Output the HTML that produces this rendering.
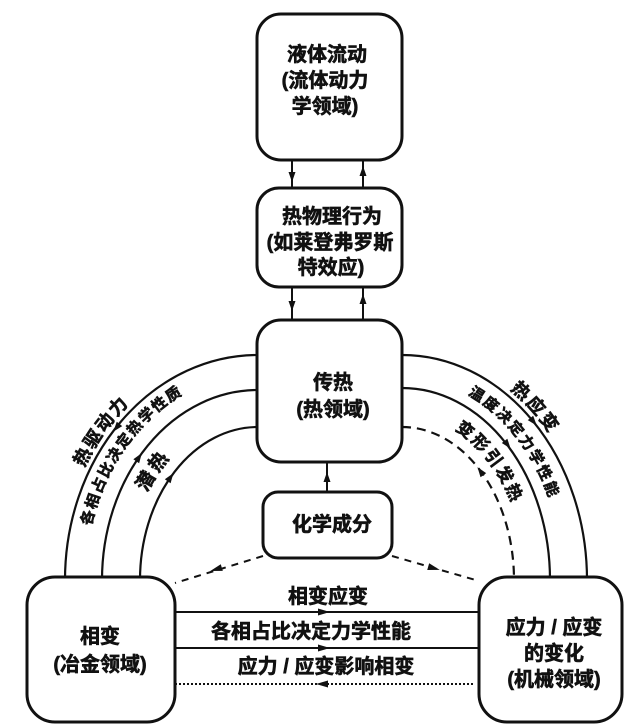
<!DOCTYPE html>
<html><head><meta charset="utf-8"><style>
html,body{margin:0;padding:0;background:#fff;}
svg{display:block;}
text{font-family:"Liberation Sans","Noto Sans CJK SC",sans-serif;font-weight:bold;fill:#111;stroke:#111;stroke-width:0.6;}
</style></head><body>
<svg width="637" height="726" viewBox="0 0 637 726" xmlns="http://www.w3.org/2000/svg">
<defs>
<path id="pL1" d="M 53 580 A 205 237 0 0 1 258 343"/>
<path id="pL2" d="M 80 580 A 178 211 0 0 1 258 369"/>
<path id="pL3" d="M 121 580 A 137 171 0 0 1 258 409"/>
<path id="pR1" d="M 402 343 A 197 237 0 0 1 599 580"/>
<path id="pR2" d="M 402 372 A 166 208 0 0 1 568 580"/>
<path id="pR3" d="M 402 408 A 130 172 0 0 1 532 580"/>
</defs>
<rect width="637" height="726" fill="#fff"/>

<!-- arcs -->
<g fill="none" stroke="#111" stroke-width="2.2">
<path d="M 258 355 A 193 225 0 0 0 65 580"/>
<path d="M 258 390 A 156 190 0 0 0 102 580"/>
<path d="M 258 427 A 118 153 0 0 0 140 580"/>
<path d="M 402 355 A 185 225 0 0 1 587 580"/>
<path d="M 402 388 A 148 192 0 0 1 550 580"/>
<path d="M 402 427 A 112 153 0 0 1 514 580" stroke-dasharray="9 6"/>
</g>

<!-- vertical connectors -->
<g stroke="#111" stroke-width="2">
<line x1="292" y1="160" x2="292" y2="188"/>
<line x1="363" y1="160" x2="363" y2="188"/>
<line x1="292" y1="287" x2="292" y2="320"/>
<line x1="363" y1="287" x2="363" y2="320"/>
<line x1="327" y1="462" x2="327" y2="492"/>
</g>

<!-- horizontal connectors -->
<g stroke="#111">
<line x1="175" y1="612" x2="479" y2="612" stroke-width="2"/>
<line x1="175" y1="648" x2="479" y2="648" stroke-width="2"/>
<line x1="175" y1="684" x2="474" y2="684" stroke-width="2" stroke-dasharray="2 2"/>
<line x1="263" y1="556" x2="175" y2="583" stroke-width="2" stroke-dasharray="7 6"/>
<line x1="392" y1="556" x2="479" y2="581" stroke-width="2" stroke-dasharray="7 6"/>
</g>

<!-- arrowheads -->
<g fill="#111">
<polygon points="6,0 -4,-3.5 -4,3.5" transform="translate(292,176) rotate(90)"/>
<polygon points="6,0 -4,-3.5 -4,3.5" transform="translate(363,172) rotate(-90)"/>
<polygon points="6,0 -4,-3.5 -4,3.5" transform="translate(292,305) rotate(90)"/>
<polygon points="6,0 -4,-3.5 -4,3.5" transform="translate(363,300) rotate(-90)"/>
<polygon points="6,0 -4,-3.5 -4,3.5" transform="translate(327,478) rotate(-90)"/>
<polygon points="7,0 -5,-3.5 -5,3.5" transform="translate(323,612)"/>
<polygon points="7,0 -5,-3.5 -5,3.5" transform="translate(323,648)"/>
<polygon points="7,0 -5,-3.5 -5,3.5" transform="translate(323,684) rotate(180)"/>
<polygon points="7,0 -5,-3.5 -5,3.5" transform="translate(217,569) rotate(163)"/>
<polygon points="7,0 -5,-3.5 -5,3.5" transform="translate(433,568) rotate(16)"/>
<polygon points="6,0 -4,-3.5 -4,3.5" transform="translate(117,427) rotate(128.7)"/>
<polygon points="6,0 -4,-3.5 -4,3.5" transform="translate(138.5,458) rotate(-55.4)"/>
<polygon points="6,0 -4,-3.5 -4,3.5" transform="translate(170,478) rotate(-55.2)"/>
<polygon points="6,0 -4,-3.5 -4,3.5" transform="translate(533,421) rotate(50.6)"/>
<polygon points="6,0 -4,-3.5 -4,3.5" transform="translate(507,444) rotate(52.4)"/>
<polygon points="6,0 -4,-3.5 -4,3.5" transform="translate(481,472) rotate(-126.2)"/>
</g>

<!-- boxes -->
<g fill="#fff" stroke="#111" stroke-width="3">
<rect x="257" y="14" width="145" height="146" rx="24" ry="24"/>
<rect x="257" y="188" width="145" height="99" rx="22" ry="22"/>
<rect x="257" y="320" width="145" height="142" rx="24" ry="24"/>
<rect x="263" y="492" width="129" height="66" rx="15" ry="15"/>
<rect x="27" y="577" width="148" height="145" rx="28" ry="28"/>
<rect x="479" y="577" width="143" height="145" rx="28" ry="28"/>
</g>

<!-- box texts -->
<g font-size="20" text-anchor="middle" dominant-baseline="central">
<text x="327" y="55">液体流动</text>
<text x="325" y="81">(流体动力</text>
<text x="325" y="107">学领域)</text>
<text x="332" y="217">热物理行为</text>
<text x="330" y="243">(如莱登弗罗斯</text>
<text x="331" y="268">特效应)</text>
<text x="333" y="383">传热</text>
<text x="333" y="410">(热领域)</text>
<text x="332" y="525">化学成分</text>
<text x="100" y="637">相变</text>
<text x="100" y="665">(冶金领域)</text>
<text x="554" y="628">应力 / 应变</text>
<text x="554" y="654">的变化</text>
<text x="554" y="680">(机械领域)</text>
<text x="328" y="597">相变应变</text>
<text x="311" y="632">各相占比决定力学性能</text>
<text x="326" y="667">应力 / 应变影响相变</text>
</g>

<!-- arc labels -->
<g text-anchor="middle" dominant-baseline="central">
<text font-size="18" letter-spacing="2.5"><textPath href="#pL1" startOffset="46%">热驱动力</textPath></text>
<text font-size="15" letter-spacing="2"><textPath href="#pL2" startOffset="46%">各相占比决定热学性质</textPath></text>
<text font-size="19" letter-spacing="4"><textPath href="#pL3" startOffset="48%">潜热</textPath></text>
<text font-size="18" letter-spacing="3"><textPath href="#pR1" startOffset="45%">热应变</textPath></text>
<text font-size="15" letter-spacing="2.5"><textPath href="#pR2" startOffset="48%">温度决定力学性能</textPath></text>
<text font-size="17" letter-spacing="3"><textPath href="#pR3" startOffset="46%">变形引发热</textPath></text>
</g>
</svg>
</body></html>
